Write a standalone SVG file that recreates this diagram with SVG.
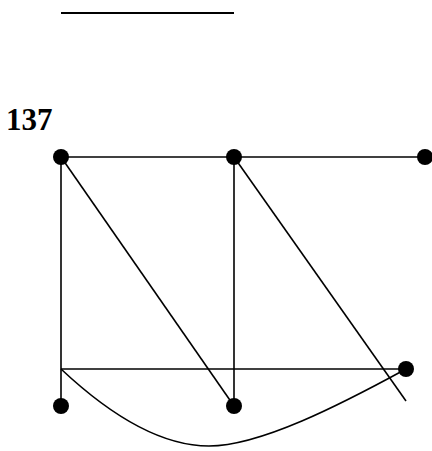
<svg xmlns="http://www.w3.org/2000/svg" width="432" height="451" viewBox="0 0 432 451">
<style>
.e{stroke:#000;stroke-width:1.6;fill:none}
.n{fill:#000}
.t{font-family:"Liberation Serif",serif;font-weight:bold;font-size:31px;fill:#000}
</style>
<rect width="432" height="451" fill="#fff"/>
<line class="e" x1="61" y1="13" x2="234" y2="13" style="stroke-width:2"/>
<text class="t" x="6" y="130">137</text>
<g id="edges">
<line class="e" x1="61" y1="157" x2="425" y2="157"/>
<line class="e" x1="61" y1="157" x2="61" y2="406"/>
<line class="e" x1="61" y1="157" x2="234" y2="406"/>
<line class="e" x1="234" y1="157" x2="234" y2="406"/>
<line class="e" x1="234" y1="157" x2="406" y2="401"/>
<line class="e" x1="61" y1="369" x2="406" y2="369"/>
<path class="e" d="M61,369 C110,415 160,446 209,446 C260,446 340,405 406,369"/>
</g>
<g id="n1"><circle class="n" cx="61" cy="157" r="8"/></g>
<g id="n2"><circle class="n" cx="234" cy="157" r="8"/></g>
<g id="n3"><circle class="n" cx="425" cy="157" r="8"/></g>
<g id="n4"><circle class="n" cx="61" cy="406" r="8"/></g>
<g id="n5"><circle class="n" cx="234" cy="406" r="8"/></g>
<g id="n6"><circle class="n" cx="406" cy="369" r="8"/></g>
</svg>
